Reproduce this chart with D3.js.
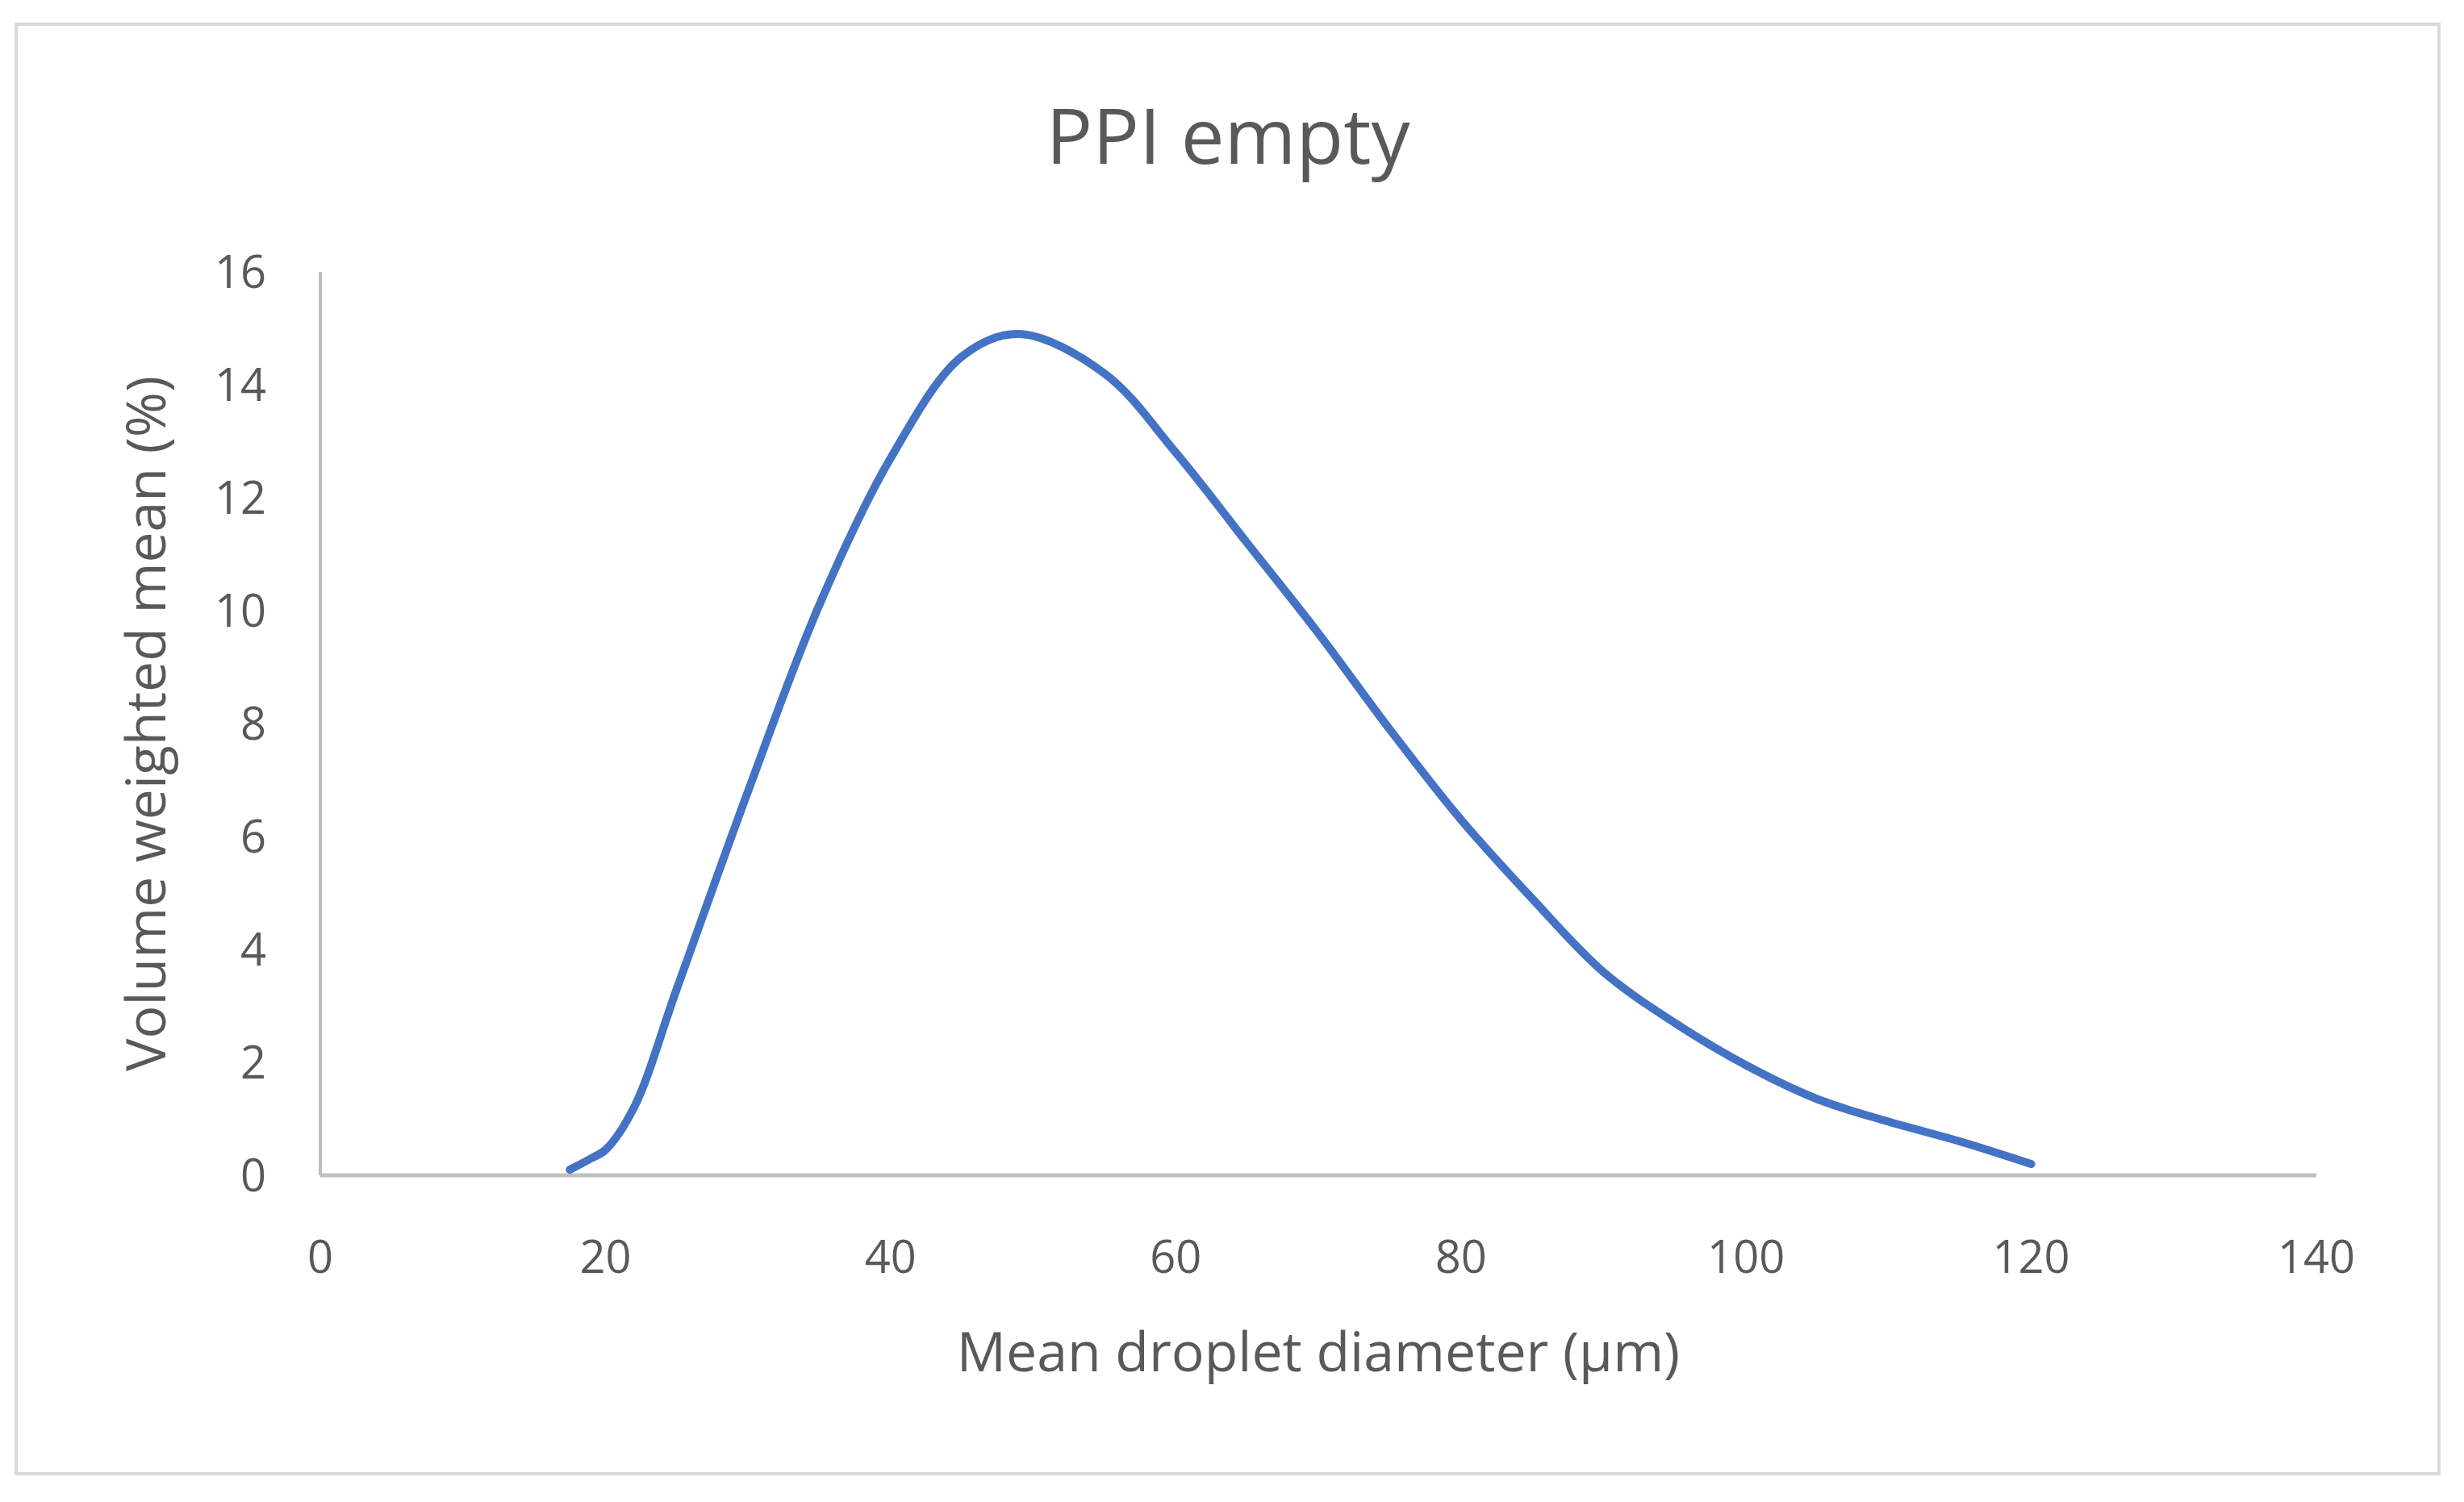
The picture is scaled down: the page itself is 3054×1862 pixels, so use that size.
<!DOCTYPE html>
<html><head><meta charset="utf-8">
<script src="https://cdn.jsdelivr.net/npm/d3@7"></script>
<style>body{margin:0;background:#fff}</style>
</head><body><div id="viz"></div>
<script>
const diameters = [17.5, 19, 20, 22, 25, 30, 35, 40, 45, 49, 55, 60, 65, 70, 75, 80, 85, 90, 95, 100, 105, 110, 115, 120];
const volumes = [0.1, 0.3, 0.45, 1.2, 3.3, 6.8, 10.1, 12.7, 14.5, 14.9, 14.2, 12.8, 11.2, 9.6, 7.9, 6.3, 4.9, 3.6, 2.7, 1.95, 1.35, 0.95, 0.6, 0.2];
const xTicks = [0, 20, 40, 60, 80, 100, 120, 140];
const yTicks = [0, 2, 4, 6, 8, 10, 12, 14, 16];

const width = 3054, height = 1862;
const font = "'Open Sans', sans-serif";
const textFill = "#595959";

const svg = d3.select("#viz").append("svg")
    .attr("width", width).attr("height", height)
    .style("font-family", font);

// chart border
svg.append("rect").attr("x", 20).attr("y", 30).attr("width", 3003).attr("height", 1797)
    .attr("fill", "#fff").attr("stroke", "#d9d9d9").attr("stroke-width", 4);

const x = d3.scaleLinear().domain([0, 140]).range([397, 2871]);
const y = d3.scaleLinear().domain([0, 16]).range([1457, 337]);

// axes lines
svg.append("line").attr("x1", x(0)).attr("x2", x(0)).attr("y1", y(16)).attr("y2", y(0))
    .attr("stroke", "#bfbfbf").attr("stroke-width", 4);
svg.append("line").attr("x1", x(0)).attr("x2", x(140)).attr("y1", y(0)).attr("y2", y(0))
    .attr("stroke", "#bfbfbf").attr("stroke-width", 5);

svg.append("g").selectAll("text").data(xTicks).join("text")
    .attr("x", d => x(d)).attr("y", 1578)
    .attr("text-anchor", "middle").attr("font-size", 56).attr("fill", textFill)
    .text(d => d);

svg.append("g").selectAll("text").data(yTicks).join("text")
    .attr("x", 330).attr("y", d => y(d)).attr("dy", "0.35em")
    .attr("text-anchor", "end").attr("font-size", 56).attr("fill", textFill)
    .text(d => d);

const points = diameters.map((d, i) => [d, volumes[i]]);
const line = d3.line().x(d => x(d[0])).y(d => y(d[1])).curve(d3.curveCatmullRom);
svg.append("path").attr("d", line(points))
    .attr("fill", "none").attr("stroke", "#4472c4").attr("stroke-width", 10)
    .attr("stroke-linecap", "round");

svg.append("text").attr("x", 1522).attr("y", 203).attr("text-anchor", "middle")
    .attr("font-size", 96).attr("fill", textFill).text("PPI empty");

svg.append("text").attr("x", 1634).attr("y", 1700).attr("text-anchor", "middle")
    .attr("font-size", 68).attr("fill", textFill).text("Mean droplet diameter (µm)");

svg.append("text").attr("transform", "translate(205,897) rotate(-90)").attr("text-anchor", "middle")
    .attr("font-size", 68).attr("fill", textFill).text("Volume weighted mean (%)");
</script>
</body></html>
